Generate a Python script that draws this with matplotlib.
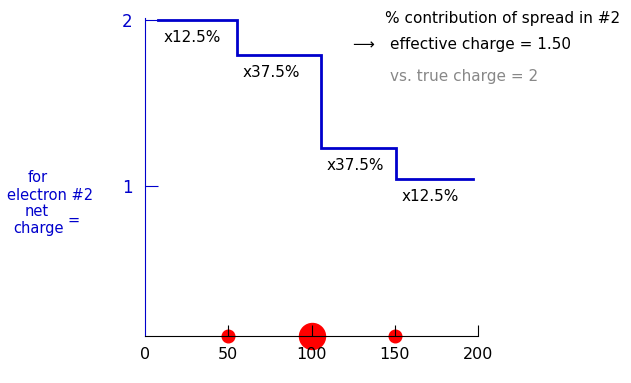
import matplotlib
matplotlib.use("Agg")
from matplotlib import pyplot as plt

plt.rcParams['font.family'] = ['DejaVu Sans']

# step edges along x and the net charge of each step
edges = [8, 55, 106, 151, 197]
levels = [2.0, 1.79, 1.23, 1.04]
pct_labels = ["x12.5%", "x37.5%", "x37.5%", "x12.5%"]

# electron positions on the axis and dot sizes
dot_x = [50, 100, 150]
dot_r = [6.3, 13, 6.3]

x_ticks = [0, 50, 100, 150, 200]
y_ticks = [1, 2]

blue = "#0000cc"
W, H = 631, 383
fs = 11

fig = plt.figure(figsize=(W / 100, H / 100), dpi=100)
# axes placed in pixels: x 145..478, y 18..336 (from top)
ax = fig.add_axes([145 / W, 1 - 336 / H, 333 / W, 318 / H])
ax.set_xlim(0, 200)
ax.set_ylim(2 - 316 / 166, 2 + 2 / 166)

# step line
xs, ys = [], []
for i, lv in enumerate(levels):
    xs += [edges[i], edges[i + 1]]
    ys += [lv, lv]
ax.plot(xs, ys, color=blue, lw=2, solid_joinstyle='miter')

for i, lab in enumerate(pct_labels):
    ax.annotate(lab, xy=(edges[i], levels[i]), xytext=(4, -12.5),
                textcoords='offset points', va='center', ha='left',
                fontsize=fs, color='black')

# red dots on the bottom axis (under the tick marks)
ymin = ax.get_ylim()[0]
for x, r in zip(dot_x, dot_r):
    ax.plot(x, ymin, 'o', color='red', ms=r * 2 * 0.72, mec='red',
            clip_on=False, zorder=1)

for s in ['top', 'right']:
    ax.spines[s].set_visible(False)
ax.spines['left'].set_color(blue)
ax.spines['bottom'].set_color('black')

ax.set_xticks(x_ticks)
ax.set_xticklabels([str(v) for v in x_ticks])
ax.tick_params(axis='x', direction='in', length=8, pad=8, labelsize=11.5,
               color='black')
ax.xaxis.get_major_ticks()[0].tick1line.set_visible(False)
ax.set_yticks(y_ticks)
ax.tick_params(axis='y', direction='in', length=9, pad=9, labelsize=12,
               colors=blue)

# text on the right
fig.text(385 / W, 1 - 18 / H, "% contribution of spread in #2", fontsize=fs,
         va='center', ha='left')
fig.text(352 / W, 1 - 45 / H, "\u27f6", fontsize=fs, va='center', ha='left')
fig.text(390 / W, 1 - 45 / H, "effective charge = 1.50", fontsize=fs,
         va='center', ha='left')
fig.text(390 / W, 1 - 77 / H, "vs. true charge = 2", fontsize=fs,
         va='center', ha='left', color='#888888')

# left label
for txt, cx, cy in [("for", 38, 178), ("electron #2", 50, 195),
                    ("net", 37, 211), ("charge", 38, 228), ("=", 74, 220)]:
    fig.text(cx / W, 1 - cy / H, txt, fontsize=10.5, va='center',
             ha='center', color=blue)

fig.savefig("out.png", dpi=100)
